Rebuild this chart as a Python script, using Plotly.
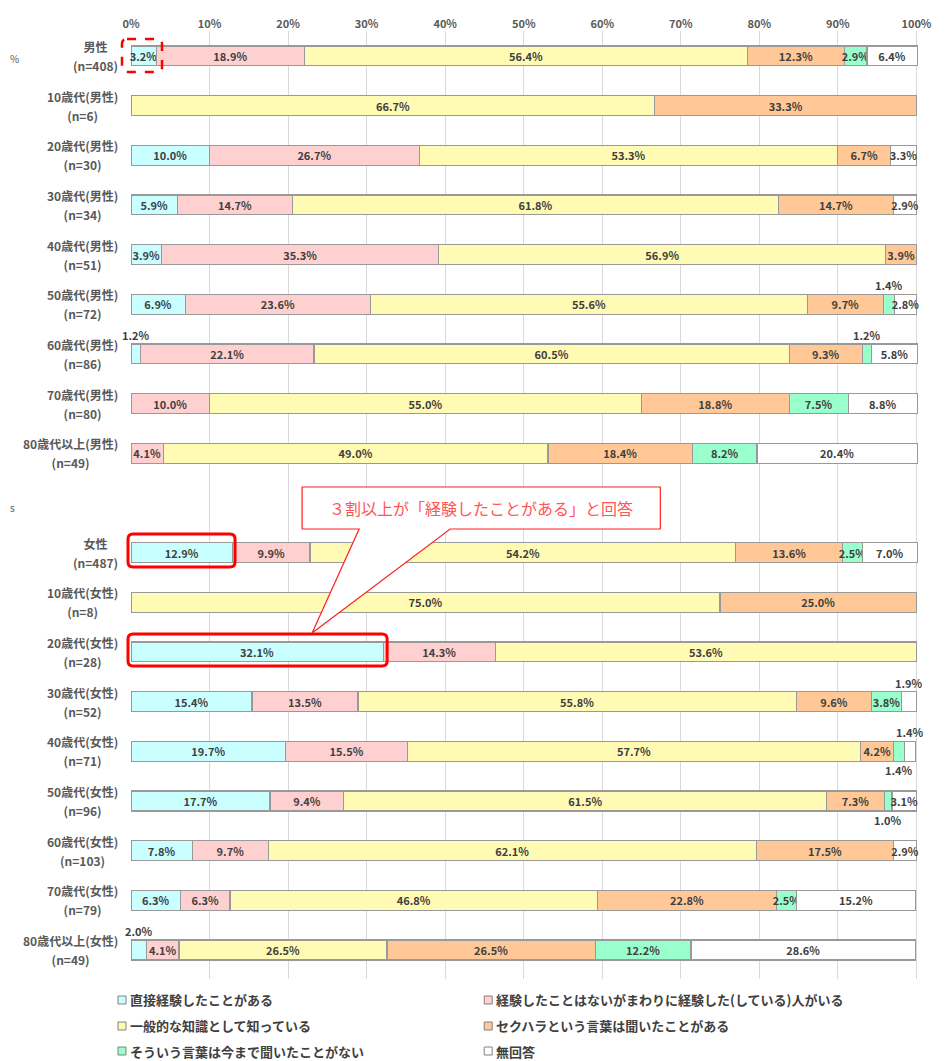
import plotly.graph_objects as go

categories = [
    "男性<br>(n=408)", "10歳代(男性)<br>(n=6)", "20歳代(男性)<br>(n=30)", "30歳代(男性)<br>(n=34)",
    "40歳代(男性)<br>(n=51)", "50歳代(男性)<br>(n=72)", "60歳代(男性)<br>(n=86)", "70歳代(男性)<br>(n=80)",
    "80歳代以上(男性)<br>(n=49)", " ",
    "女性<br>(n=487)", "10歳代(女性)<br>(n=8)", "20歳代(女性)<br>(n=28)", "30歳代(女性)<br>(n=52)",
    "40歳代(女性)<br>(n=71)", "50歳代(女性)<br>(n=96)", "60歳代(女性)<br>(n=103)", "70歳代(女性)<br>(n=79)",
    "80歳代以上(女性)<br>(n=49)",
]

series_names = [
    "直接経験したことがある",
    "経験したことはないがまわりに経験した(している)人がいる",
    "一般的な知識として知っている",
    "セクハラという言葉は聞いたことがある",
    "そういう言葉は今まで聞いたことがない",
    "無回答",
]

direct = [3.2, 0, 10.0, 5.9, 3.9, 6.9, 1.2, 0, 0, None, 12.9, 0, 32.1, 15.4, 19.7, 17.7, 7.8, 6.3, 2.0]
around = [18.9, 0, 26.7, 14.7, 35.3, 23.6, 22.1, 10.0, 4.1, None, 9.9, 0, 14.3, 13.5, 15.5, 9.4, 9.7, 6.3, 4.1]
general = [56.4, 66.7, 53.3, 61.8, 56.9, 55.6, 60.5, 55.0, 49.0, None, 54.2, 75.0, 53.6, 55.8, 57.7, 61.5, 62.1, 46.8, 26.5]
heard = [12.3, 33.3, 6.7, 14.7, 3.9, 9.7, 9.3, 18.8, 18.4, None, 13.6, 25.0, 0, 9.6, 4.2, 7.3, 17.5, 22.8, 26.5]
never = [2.9, 0, 0, 0, 0, 1.4, 1.2, 7.5, 8.2, None, 2.5, 0, 0, 3.8, 1.4, 1.0, 0, 2.5, 12.2]
noans = [6.4, 0, 3.3, 2.9, 0, 2.8, 5.8, 8.8, 20.4, None, 7.0, 0, 0, 1.9, 1.4, 3.1, 2.9, 15.2, 28.6]

series_values = [direct, around, general, heard, never, noans]
colors = ["#C9FFFF", "#FFD0D0", "#FFFAB4", "#FFC896", "#99FFCC", "#FFFFFF"]

# labels drawn outside the bar: (series index, row index, "above"/"below")
outside_labels = [
    (4, 5, "above"), (0, 6, "above"), (4, 6, "above"),
    (5, 13, "above"), (5, 14, "above"), (4, 14, "below"),
    (4, 15, "below"), (0, 18, "above"),
]

tick_vals = [0, 10, 20, 30, 40, 50, 60, 70, 80, 90, 100]
tick_text = [f"{v}%" for v in tick_vals]

FONT = "Noto Sans CJK JP"
LABEL_COLOR = "#404040"

# page has an 8px body margin: figure origin sits at page (8, 8)
OFF = 8
W, H = 948 - OFF, 1061 - OFF
X_MAX = 100.2
PX_PER_PCT = 7.85
ML, MT = 131 - OFF, 31 - OFF
PW = X_MAX * PX_PER_PCT
MR = W - ML - PW
MB = H - (979 - OFF)
PH = H - MT - MB

fig = go.Figure()
outside_set = {(s, r) for s, r, _ in outside_labels}
for si, (name, vals, col) in enumerate(zip(series_names, series_values, colors)):
    xs = [v if (v is not None and v > 0) else None for v in vals]
    texts = []
    for ri, v in enumerate(vals):
        if v is None or v <= 0 or (si, ri) in outside_set:
            texts.append("")
        else:
            texts.append(f"{v:.1f}%")
    fig.add_trace(go.Bar(
        y=categories, x=xs, name=name, orientation="h",
        marker=dict(color=col, line=dict(color="#999999", width=1.2)),
        text=texts, textposition="inside", insidetextanchor="middle", textangle=0,
        textfont=dict(family=FONT, size=11, color=LABEL_COLOR, weight="bold"),
        hoverinfo="skip", width=0.4, cliponaxis=False, showlegend=False,
    ))

annotations = []
for si, ri, pos in outside_labels:
    vals = [series_values[k][ri] or 0 for k in range(6)]
    start = sum(vals[:si])
    mid = start + vals[si] / 2
    annotations.append(dict(
        x=mid, y=categories[ri], xref="x", yref="y", text=f"{vals[si]:.1f}%",
        showarrow=False, yshift=19 if pos == "above" else -19,
        font=dict(family=FONT, size=11, color=LABEL_COLOR, weight="bold"),
    ))

# category labels: block right-aligned next to the axis, lines centred
for cat in categories:
    if not cat.strip():
        continue
    lines = cat.split("<br>")
    txt = "<br>".join(f"<span style='font-size:12px'>{ln}</span>" for ln in lines)
    annotations.append(dict(
        x=0, y=cat, xref="paper", yref="y", text=txt, showarrow=False,
        xanchor="right", yanchor="middle", align="center", xshift=-11,
        font=dict(family=FONT, size=14.6, color="#595959", weight="bold"),
    ))


def px_x(px):
    # page pixel -> paper x
    return (px - OFF - ML) / PW


def px_y(py):
    return 1 - (py - OFF - MT) / PH


def rounded_rect(x0, y0, x1, y1, r):
    pts = [
        f"M {px_x(x0 + r)},{px_y(y0)}",
        f"L {px_x(x1 - r)},{px_y(y0)}",
        f"Q {px_x(x1)},{px_y(y0)} {px_x(x1)},{px_y(y0 + r)}",
        f"L {px_x(x1)},{px_y(y1 - r)}",
        f"Q {px_x(x1)},{px_y(y1)} {px_x(x1 - r)},{px_y(y1)}",
        f"L {px_x(x0 + r)},{px_y(y1)}",
        f"Q {px_x(x0)},{px_y(y1)} {px_x(x0)},{px_y(y1 - r)}",
        f"L {px_x(x0)},{px_y(y0 + r)}",
        f"Q {px_x(x0)},{px_y(y0)} {px_x(x0 + r)},{px_y(y0)} Z",
    ]
    return " ".join(pts)


shapes = [
    dict(type="path", xref="paper", yref="paper", path=rounded_rect(122, 39, 162, 72, 5),
         line=dict(color="#FF0000", width=2.5, dash="dash"), layer="above"),
    dict(type="path", xref="paper", yref="paper", path=rounded_rect(128, 534, 235, 567, 5),
         line=dict(color="#FF0000", width=3), layer="above"),
    dict(type="path", xref="paper", yref="paper", path=rounded_rect(128, 634, 387, 666, 5),
         line=dict(color="#FF0000", width=3), layer="above"),
    dict(type="path", xref="paper", yref="paper",
         path=(f"M {px_x(302)},{px_y(487)} L {px_x(660)},{px_y(487)} L {px_x(660)},{px_y(529)} "
               f"L {px_x(450)},{px_y(529)} L {px_x(312)},{px_y(633)} L {px_x(359)},{px_y(529)} "
               f"L {px_x(302)},{px_y(529)} Z"),
         fillcolor="#FFFFFF", line=dict(color="#FF2020", width=1.2), layer="above"),
]

annotations.append(dict(
    x=px_x(481), y=px_y(508), xref="paper", yref="paper",
    text="３割以上が「経験したことがある」と回答", showarrow=False,
    xanchor="center", yanchor="middle",
    font=dict(family=FONT, size=16, color="#FF5555"),
))
# small text fragments at the left edge
annotations.append(dict(x=px_x(OFF), y=px_y(58), xref="paper", yref="paper", text="%",
                        showarrow=False, xanchor="left", yanchor="middle",
                        font=dict(family=FONT, size=10, color="#595959")))
annotations.append(dict(x=px_x(OFF), y=px_y(507), xref="paper", yref="paper", text="s",
                        showarrow=False, xanchor="left", yanchor="middle",
                        font=dict(family=FONT, size=10, color="#595959")))

# legend (2 columns x 3 rows), drawn as small squares + texts
legend_pos = [(118, 1000), (484, 1000), (118, 1026), (484, 1026), (118, 1051), (484, 1051)]
for (lx, ly), name, col in zip(legend_pos, series_names, colors):
    shapes.append(dict(type="rect", xref="paper", yref="paper",
                       x0=px_x(lx), x1=px_x(lx + 8), y0=px_y(ly - 4), y1=px_y(ly + 4),
                       fillcolor=col, line=dict(color="#808080", width=1)))
    annotations.append(dict(x=px_x(lx + 10), y=px_y(ly), xref="paper", yref="paper",
                            text=name, showarrow=False, xanchor="left", yanchor="middle",
                            font=dict(family=FONT, size=13, color="#404040", weight="bold")))

fig.update_layout(
    width=W, height=H, barmode="stack",
    margin=dict(l=ML, r=MR, t=MT, b=MB, autoexpand=False),
    plot_bgcolor="#FFFFFF", paper_bgcolor="#FFFFFF",
    uniformtext=dict(minsize=11, mode="show"),
    font=dict(family=FONT, color="#595959"),
    xaxis=dict(range=[0, X_MAX], side="top", tickvals=tick_vals, ticktext=tick_text,
               showgrid=True, gridcolor="#D9D9D9", gridwidth=1, zeroline=False,
               tickfont=dict(family=FONT, size=11, color="#595959", weight="bold"),
               ticks="", showline=False, fixedrange=True, automargin=False),
    yaxis=dict(categoryorder="array", categoryarray=categories, autorange="reversed",
               showticklabels=False, showgrid=False, zeroline=False, ticks="",
               automargin=False),
    showlegend=False,
    shapes=shapes, annotations=annotations,
)

fig.write_html("out.html")
